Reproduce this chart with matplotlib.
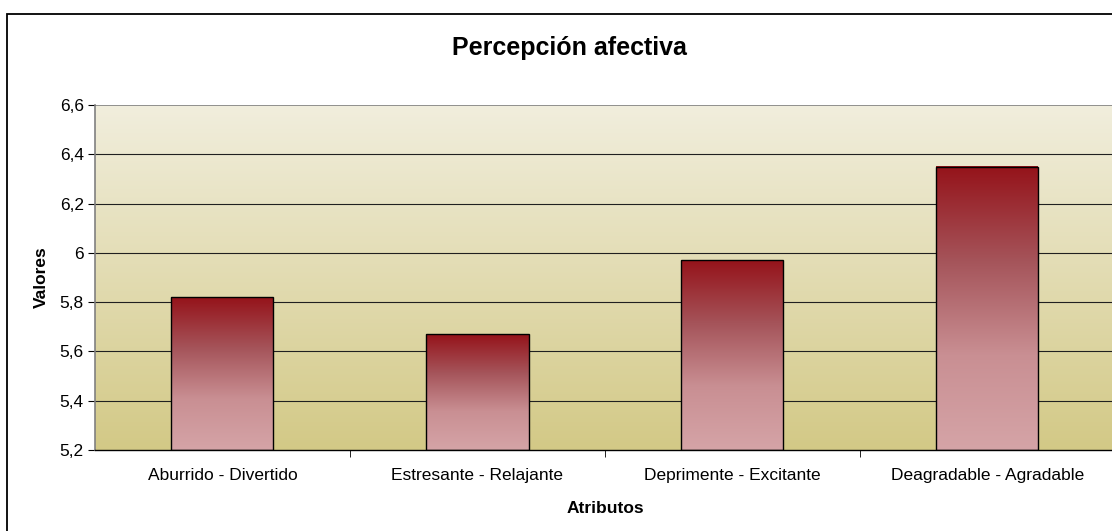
import numpy as np
import matplotlib.pyplot as plt
from matplotlib.colors import LinearSegmentedColormap
from matplotlib.patches import Rectangle

plt.rcParams['font.family'] = ['Liberation Sans', 'DejaVu Sans']

categories = ["Aburrido - Divertido", "Estresante - Relajante",
              "Deprimente - Excitante", "Deagradable - Agradable"]
values = [5.82, 5.67, 5.97, 6.35]
yticks = [5.2, 5.4, 5.6, 5.8, 6.0, 6.2, 6.4, 6.6]
ytick_labels = ["5,2", "5,4", "5,6", "5,8", "6", "6,2", "6,4", "6,6"]

W, H = 1112, 531
fig = plt.figure(figsize=(W / 100, H / 100), dpi=100)
fig.patch.set_facecolor("white")

# outer chart border (left/top visible, right/bottom cut off)
fig.add_artist(Rectangle((7 / W, -0.05), 1.2, (531 - 14.5) / H + 0.05,
                         transform=fig.transFigure, fill=False,
                         edgecolor="black", linewidth=1.3, zorder=0))

ax = fig.add_axes([95 / W, (531 - 450) / H, (1115 - 95) / W, (450 - 105) / H])
ymin, ymax = 5.2, 6.6
x = np.arange(len(categories))

# background gradient
bg = LinearSegmentedColormap.from_list("bg", ["#D3C986", "#F1EEDD"])
grad = np.linspace(0, 1, 256).reshape(-1, 1)
ax.imshow(grad, cmap=bg, aspect="auto", origin="lower",
          extent=[-0.5, len(categories) - 0.5, ymin, ymax], zorder=0)

# gridlines
for t in yticks[1:-1]:
    ax.axhline(t, color="#202020", linewidth=0.8, zorder=1)
ax.axhline(ymax, color="#808080", linewidth=1.2, zorder=1)

# bars with vertical gradient
barcmap = LinearSegmentedColormap.from_list(
    "bar", ["#D5A4A7", "#C98F93", "#A5545A", "#95131A"])
bw = 0.4
bars = ax.bar(x, [v - ymin for v in values], bottom=ymin, width=bw,
              facecolor="none", edgecolor="black", linewidth=1.0, zorder=3)
for b in bars:
    x0, y0 = b.get_x(), b.get_y()
    w, h = b.get_width(), b.get_height()
    ax.imshow(grad, cmap=barcmap, aspect="auto", origin="lower",
              extent=[x0, x0 + w, y0, y0 + h], zorder=2)
ax.set_xlim(-0.5, len(categories) - 0.5)
ax.set_ylim(ymin, ymax)

ax.set_yticks(yticks)
ax.set_yticklabels(ytick_labels)
ax.set_xticks(x)
ax.set_xticklabels(categories)
ax.set_xticks(np.arange(0.5, len(categories) - 0.5), minor=True)
ax.tick_params(axis="x", which="major", length=0, pad=13, labelsize=12.5)
ax.tick_params(axis="x", which="minor", length=5, color="black", direction="out")
ax.tick_params(axis="y", length=5, color="black", labelsize=12.5, pad=3)

for s in ["top", "right"]:
    ax.spines[s].set_visible(False)
ax.spines["left"].set_color("#808080")
ax.spines["left"].set_linewidth(1.2)
ax.spines["bottom"].set_color("black")
ax.spines["bottom"].set_linewidth(1.0)

ax.set_ylabel("Valores", fontsize=12.5, fontweight="bold", labelpad=8)
ax.set_xlabel("Atributos", fontsize=12.5, fontweight="bold", labelpad=13)
fig.text(569 / W, 1 - 48 / H, "Percepción afectiva",
         ha="center", va="center", fontsize=18, fontweight="bold")

fig.savefig("out.png", dpi=100)
